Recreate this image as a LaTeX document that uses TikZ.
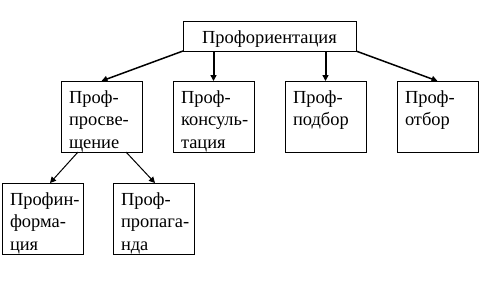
\documentclass[tikz,border=0pt]{standalone}
\usepackage{fontspec}
\setmainfont{Liberation Serif}
\usetikzlibrary{arrows.meta}
\hyphenpenalty=10000
\exhyphenpenalty=10000
\hfuzz=20pt
\begin{document}
\begin{tikzpicture}[x=1bp,y=-1bp,
bx/.style={draw,line width=1bp,anchor=north west,inner xsep=8bp,inner ysep=0pt,outer sep=0pt,font=\rmfamily\fontsize{18.5}{23}\selectfont,text height=22bp},
blk/.style={bx,text width=65bp,align=left,text depth=49bp},
arr/.style={-{Triangle[length=6bp,width=6bp]}}]
\useasboundingbox (0,0) rectangle (493,285);
\node[bx,text width=157bp,align=center,text depth=8bp] (po) at (183,21) {Профориентация};
\node[blk] (pp) at (61,81) {Проф-\\просве-\\щение};
\node[blk] (pk) at (173,81) {Проф-\\консуль-\\тация};
\node[blk] (pb) at (285,81) {Проф-\\подбор};
\node[blk] (pt) at (397,81) {Проф-\\отбор};
\node[blk] (pi) at (2,183) {Профин-\\форма-\\ция};
\node[blk] (pg) at (113,183) {Проф-\\пропага-\\нда};
\draw[arr,line width=1.5bp] (po.south west) -- (pp.north);
\draw[arr,line width=1.5bp] (po.south east) -- (pt.north);
\foreach \n in {pk,pb}{\draw[arr,line width=2bp] (\n.north |- po.south) -- (\n.north);}
\draw[arr,line width=1bp] ([xshift=-23.5bp]pp.south) -- ([xshift=7.5bp]pi.north);
\draw[arr,line width=1bp] ([xshift=24.5bp]pp.south) -- ([xshift=1.5bp]pg.north);
\end{tikzpicture}
\end{document}
